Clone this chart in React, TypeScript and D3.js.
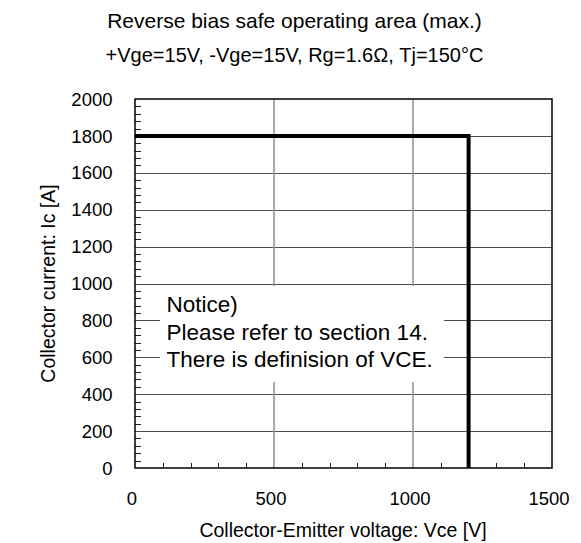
import { useEffect, useRef } from "react";
import * as d3 from "d3";

const title = "Reverse bias safe operating area (max.)";
const subtitle = "+Vge=15V, -Vge=15V, Rg=1.6Ω, Tj=150°C";
const xTitle = "Collector-Emitter voltage: Vce [V]";
const yTitle = "Collector current: Ic [A]";

// RBSOA boundary (max.)
const vce = [0, 1200, 1200];
const ic = [1800, 1800, 0];

const xTicks = [0, 500, 1000, 1500];
const yTicks = [0, 200, 400, 600, 800, 1000, 1200, 1400, 1600, 1800, 2000];
const xMinor = [100, 200, 300, 400, 600, 700, 800, 900, 1100, 1200, 1300, 1400];
const yMinorStep = 40;

const noticeLines = ["Notice)", "Please refer to section 14.", "There is definision of VCE."];

const FONT = "'Liberation Sans', Arial, sans-serif";

const App = () => {
  const svgRef = useRef<SVGSVGElement>(null);

  useEffect(() => {
    const W = 581;
    const H = 543;
    const m = { top: 99, right: 29, bottom: 75, left: 135 };

    const svg = d3.select(svgRef.current).attr("width", W).attr("height", H);
    svg.selectAll("*").remove();

    const x = d3.scaleLinear().domain([0, 1500]).range([m.left, W - m.right]);
    const y = d3.scaleLinear().domain([0, 2000]).range([H - m.bottom, m.top]);

    const g = svg.append("g");

    // gridlines
    g.selectAll(".hgrid")
      .data(yTicks.filter((d) => d > 0 && d < 2000))
      .join("line")
      .attr("x1", x(0))
      .attr("x2", x(1500))
      .attr("y1", (d) => Math.round(y(d)) + 0.5)
      .attr("y2", (d) => Math.round(y(d)) + 0.5)
      .attr("stroke", "#4d4d4d")
      .attr("stroke-width", 1);

    g.selectAll(".vgrid")
      .data(xTicks.filter((d) => d > 0 && d < 1500))
      .join("line")
      .attr("x1", (d) => x(d))
      .attr("x2", (d) => x(d))
      .attr("y1", y(0))
      .attr("y2", y(2000))
      .attr("stroke", "#969696")
      .attr("stroke-width", 1.6);

    // minor ticks (inside)
    const yMinor = d3.range(0, 2000, yMinorStep).filter((d) => d % 200 !== 0);
    g.selectAll(".yminor")
      .data(yMinor)
      .join("line")
      .attr("x1", x(0))
      .attr("x2", x(0) + 6)
      .attr("y1", (d) => Math.round(y(d)) + 0.5)
      .attr("y2", (d) => Math.round(y(d)) + 0.5)
      .attr("stroke", "#222")
      .attr("stroke-width", 1);

    g.selectAll(".xminor")
      .data(xMinor)
      .join("line")
      .attr("x1", (d) => Math.round(x(d)) + 0.5)
      .attr("x2", (d) => Math.round(x(d)) + 0.5)
      .attr("y1", y(0))
      .attr("y2", y(0) - 5)
      .attr("stroke", "#222")
      .attr("stroke-width", 1);

    // notice box
    g.append("rect")
      .attr("x", 160)
      .attr("y", 286)
      .attr("width", 284)
      .attr("height", 96)
      .attr("fill", "#fff");

    g.selectAll(".notice")
      .data(noticeLines)
      .join("text")
      .attr("x", 166.5)
      .attr("y", (_, i) => 312 + i * 27.5)
      .attr("font-family", FONT)
      .attr("font-size", 22.5)
      .attr("fill", "#000")
      .text((d) => d);

    // boundary line
    const line = d3
      .line<number>()
      .x((_, i) => x(vce[i]))
      .y((d) => y(d));
    g.append("path")
      .datum(ic)
      .attr("d", line)
      .attr("fill", "none")
      .attr("stroke", "#000")
      .attr("stroke-width", 4)
      .attr("stroke-linejoin", "miter");

    // frame
    g.append("rect")
      .attr("x", x(0))
      .attr("y", y(2000))
      .attr("width", x(1500) - x(0))
      .attr("height", y(0) - y(2000))
      .attr("fill", "none")
      .attr("stroke", "#000")
      .attr("stroke-width", 1.5);

    // tick labels
    g.selectAll(".ylab")
      .data(yTicks)
      .join("text")
      .attr("x", 112.5)
      .attr("y", (d) => y(d))
      .attr("dy", "0.36em")
      .attr("text-anchor", "end")
      .attr("font-family", FONT)
      .attr("font-size", 18.5)
      .text((d) => d);

    g.selectAll(".xlab")
      .data(xTicks)
      .join("text")
      .attr("x", (d) => x(d) - 3)
      .attr("y", 505)
      .attr("text-anchor", "middle")
      .attr("font-family", FONT)
      .attr("font-size", 18.5)
      .text((d) => d);

    // titles
    svg.append("text")
      .attr("x", 343)
      .attr("y", 537)
      .attr("text-anchor", "middle")
      .attr("font-family", FONT)
      .attr("font-size", 19.5)
      .text(xTitle);

    svg.append("text")
      .attr("transform", `translate(55,${(y(0) + y(2000)) / 2}) rotate(-90)`)
      .attr("text-anchor", "middle")
      .attr("font-family", FONT)
      .attr("font-size", 19.5)
      .text(yTitle);

    svg.append("text")
      .attr("x", 294.5)
      .attr("y", 28)
      .attr("text-anchor", "middle")
      .attr("font-family", FONT)
      .attr("font-size", 21)
      .text(title);

    svg.append("text")
      .attr("x", 294.5)
      .attr("y", 62)
      .attr("text-anchor", "middle")
      .attr("font-family", FONT)
      .attr("font-size", 20)
      .text(subtitle);
  }, []);

  return (
    <svg
      ref={svgRef}
      style={{ position: "absolute", left: 0, top: 0, background: "#fff" }}
    ></svg>
  );
};

export default App;
